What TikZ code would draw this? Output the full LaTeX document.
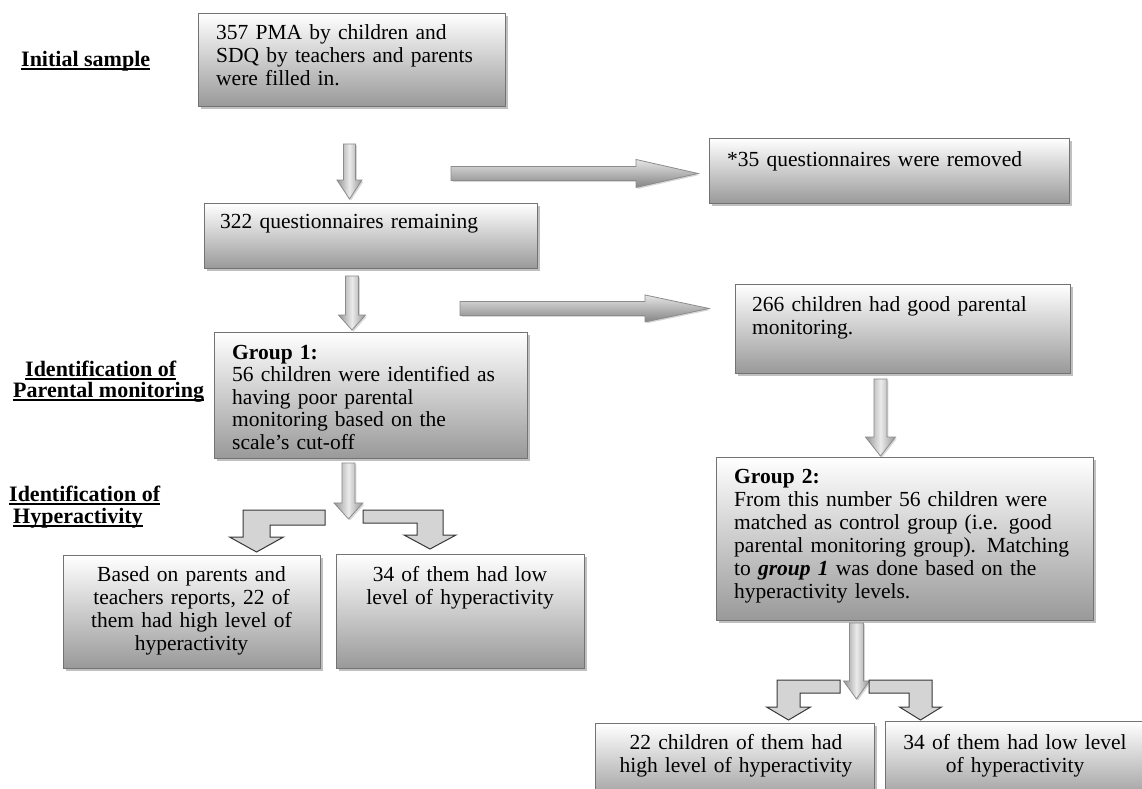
\documentclass[tikz,border=0pt]{standalone}
\usepackage{fontspec}
\setmainfont{Liberation Serif}
\usetikzlibrary{calc,shadows}

\tikzset{
  box/.style={draw=black!55, line width=0.9pt, top color=white, bottom color=black!40,
    inner sep=0pt, anchor=north west,
    drop shadow={shadow xshift=2.5pt, shadow yshift=-2.5pt, fill=black!45, opacity=0.55}},
  txt/.style={font=\fontsize{21.5}{23}\selectfont, inner sep=0pt, align=left, anchor=base west},
  ctxt/.style={font=\fontsize{21.5}{23}\selectfont, inner sep=0pt, align=center, anchor=base},
  lbl/.style={font=\fontsize{22}{23}\selectfont\bfseries, inner sep=0pt, anchor=base west},
  ul/.style={line width=1.3pt},
  varrow/.style={draw=black!45, line width=0.8pt, left color=black!42, right color=black!42, middle color=black!8,
    drop shadow={shadow xshift=1.5pt, shadow yshift=-1.5pt, fill=black!40, opacity=0.4}},
  harrow/.style={draw=black!45, line width=0.8pt, top color=black!10, bottom color=black!48,
    drop shadow={shadow xshift=1.5pt, shadow yshift=-1.5pt, fill=black!40, opacity=0.4}},
  bentarrow/.style={draw=black!78, line width=1pt, fill=black!17},
}

% vertical block arrow: style, top, tip, shaft half, head half, head length
\newcommand\arrdown[6]{%
  \path[#1] let \p1=#2, \p2=#3 in
    (\x1-#4pt,\y1) -- (\x1+#4pt,\y1) -- (\x1+#4pt,\y2+#6pt) -- (\x1+#5pt,\y2+#6pt)
    -- (\x1,\y2) -- (\x1-#5pt,\y2+#6pt) -- (\x1-#4pt,\y2+#6pt) -- cycle;}
% horizontal block arrow
\newcommand\arrright[6]{%
  \path[#1] let \p1=#2, \p2=#3 in
    (\x1,\y1+#4pt) -- (\x2-#6pt,\y1+#4pt) -- (\x2-#6pt,\y1+#5pt) -- (\x2,\y1)
    -- (\x2-#6pt,\y1-#5pt) -- (\x2-#6pt,\y1-#4pt) -- (\x1,\y1-#4pt) -- cycle;}
% bent arrow to the left: xr, ytop, thickness, xouter, stem width, yheadstart, head half, ytip
\newcommand\bentL[8]{%
  \draw[bentarrow] (#1,#2) -- (#4,#2) -- (#4,#6) -- ({#4+#5/2-#7},#6) -- ({#4+#5/2},#8)
    -- ({#4+#5/2+#7},#6) -- ({#4+#5},#6) -- ({#4+#5},{#2+#3}) -- (#1,{#2+#3}) -- cycle;}
\newcommand\bentR[8]{%
  \draw[bentarrow] (#1,#2) -- (#4,#2) -- (#4,#6) -- ({#4-#5/2+#7},#6) -- ({#4-#5/2},#8)
    -- ({#4-#5/2-#7},#6) -- ({#4-#5},#6) -- ({#4-#5},{#2+#3}) -- (#1,{#2+#3}) -- cycle;}

\begin{document}
\begin{tikzpicture}[x=1pt,y=-1pt]
\useasboundingbox (0,0) rectangle (1142,788);

% boxes
\node[box, minimum width=307pt, minimum height=93pt] (a) at (198,13) {};
\node[box, minimum width=333pt, minimum height=65pt] (b) at (204,203) {};
\node[box, minimum width=360pt, minimum height=65pt] (c) at (709,138) {};
\node[box, minimum width=335pt, minimum height=89pt] (d) at (735,284) {};
\node[box, minimum width=313pt, minimum height=126pt] (e) at (214,332) {};
\node[box, minimum width=377pt, minimum height=163pt] (f) at (716,457) {};
\node[box, minimum width=257pt, minimum height=113pt] (g) at (63,555) {};
\node[box, minimum width=248pt, minimum height=114pt] (h) at (336,554) {};
\node[box, minimum width=279pt, minimum height=80pt] (i) at (595,723) {};
\node[box, minimum width=258pt, minimum height=82pt] (j) at (885,721) {};

% texts
\node[txt, text width=295pt] (ta) at (216,39) {357 PMA by children and\\SDQ by teachers and parents\\were filled in.};
\node[txt, text width=310pt] (tb) at (220,228) {322 questionnaires remaining};
\node[txt, text width=340pt] (tc) at (727,166) {*35 questionnaires were removed};
\node[txt, text width=315pt] (td) at (752,311) {266 children had good parental\\monitoring.};
\node[txt, text width=300pt, font=\fontsize{21.5}{22.5}\selectfont] (te) at (232,359) {\textbf{Group 1:}\\56 children were identified as\\having poor parental\\monitoring based on the\\scale’s cut-off};
\node[txt, text width=360pt] (tf) at (734,483) {\textbf{Group 2:}\\From this number 56 children were\\matched as control group (i.e. good\\parental monitoring group). Matching\\to \textbf{\textit{group 1}} was done based on the\\hyperactivity levels.};
\node[ctxt, text width=250pt, font=\fontsize{21.5}{23.3}\selectfont] (tg) at (191.5,581) {Based on parents and\\teachers reports, 22 of\\them had high level of\\hyperactivity};
\node[ctxt, text width=240pt] (th) at (460,581) {34 of them had low\\level of hyperactivity};
\node[ctxt, text width=270pt] (ti) at (736,749) {22 children of them had\\high level of hyperactivity};
\node[ctxt, text width=250pt] (tj) at (1015,749) {34 of them had low level\\of hyperactivity};

% left labels
\node[lbl] (l1) at (21,66) {Initial sample};
\node[lbl] (l2) at (25,376) {Identification of};
\node[lbl] (l3) at (13,397) {Parental monitoring};
\node[lbl] (l4) at (9,501) {Identification of};
\node[lbl] (l5) at (13,523) {Hyperactivity};
\foreach \n in {l1,l2,l3,l4,l5}
  \draw[ul] ($(\n.base west)+(0,3)$) -- ($(\n.base east)+(0,3)$);

% straight block arrows
\arrdown{varrow}{($(a.south)+(-2.5,37)$)}{($(a.south |- b.north)+(-2.5,-4)$)}{6}{12.5}{19}
\arrdown{varrow}{($(b.south)+(-19,7)$)}{($(b.south |- e.north)+(-19,-2)$)}{6.5}{13.5}{15}
\arrdown{varrow}{($(e.south)+(-22.5,4)$)}{($(e.south)+(-22.5,60)$)}{6.5}{14.5}{16}
\arrdown{varrow}{($(d.south)+(-22.5,5)$)}{($(d.south |- f.north)+(-22.5,-1)$)}{6.5}{15}{19}
\arrdown{varrow}{($(f.south)+(-48.5,2)$)}{($(f.south)+(-48.5,78)$)}{7}{13}{18}
\arrright{harrow}{($(c.west)+(-258,2.5)$)}{($(c.west)+(-11,2.5)$)}{7}{14}{62}
\arrright{harrow}{($(d.west)+(-275,-20.5)$)}{($(d.west)+(-26,-20.5)$)}{7}{13.5}{64}

% bent arrows
\bentL{325}{510}{15}{243}{27}{537}{27}{552}
\bentR{363}{510}{13}{443}{26}{535}{26}{549}
\bentL{840}{680}{13}{777}{23}{707}{22}{720}
\bentR{869}{680}{13}{932}{23}{707}{21}{720}
\end{tikzpicture}
\end{document}
